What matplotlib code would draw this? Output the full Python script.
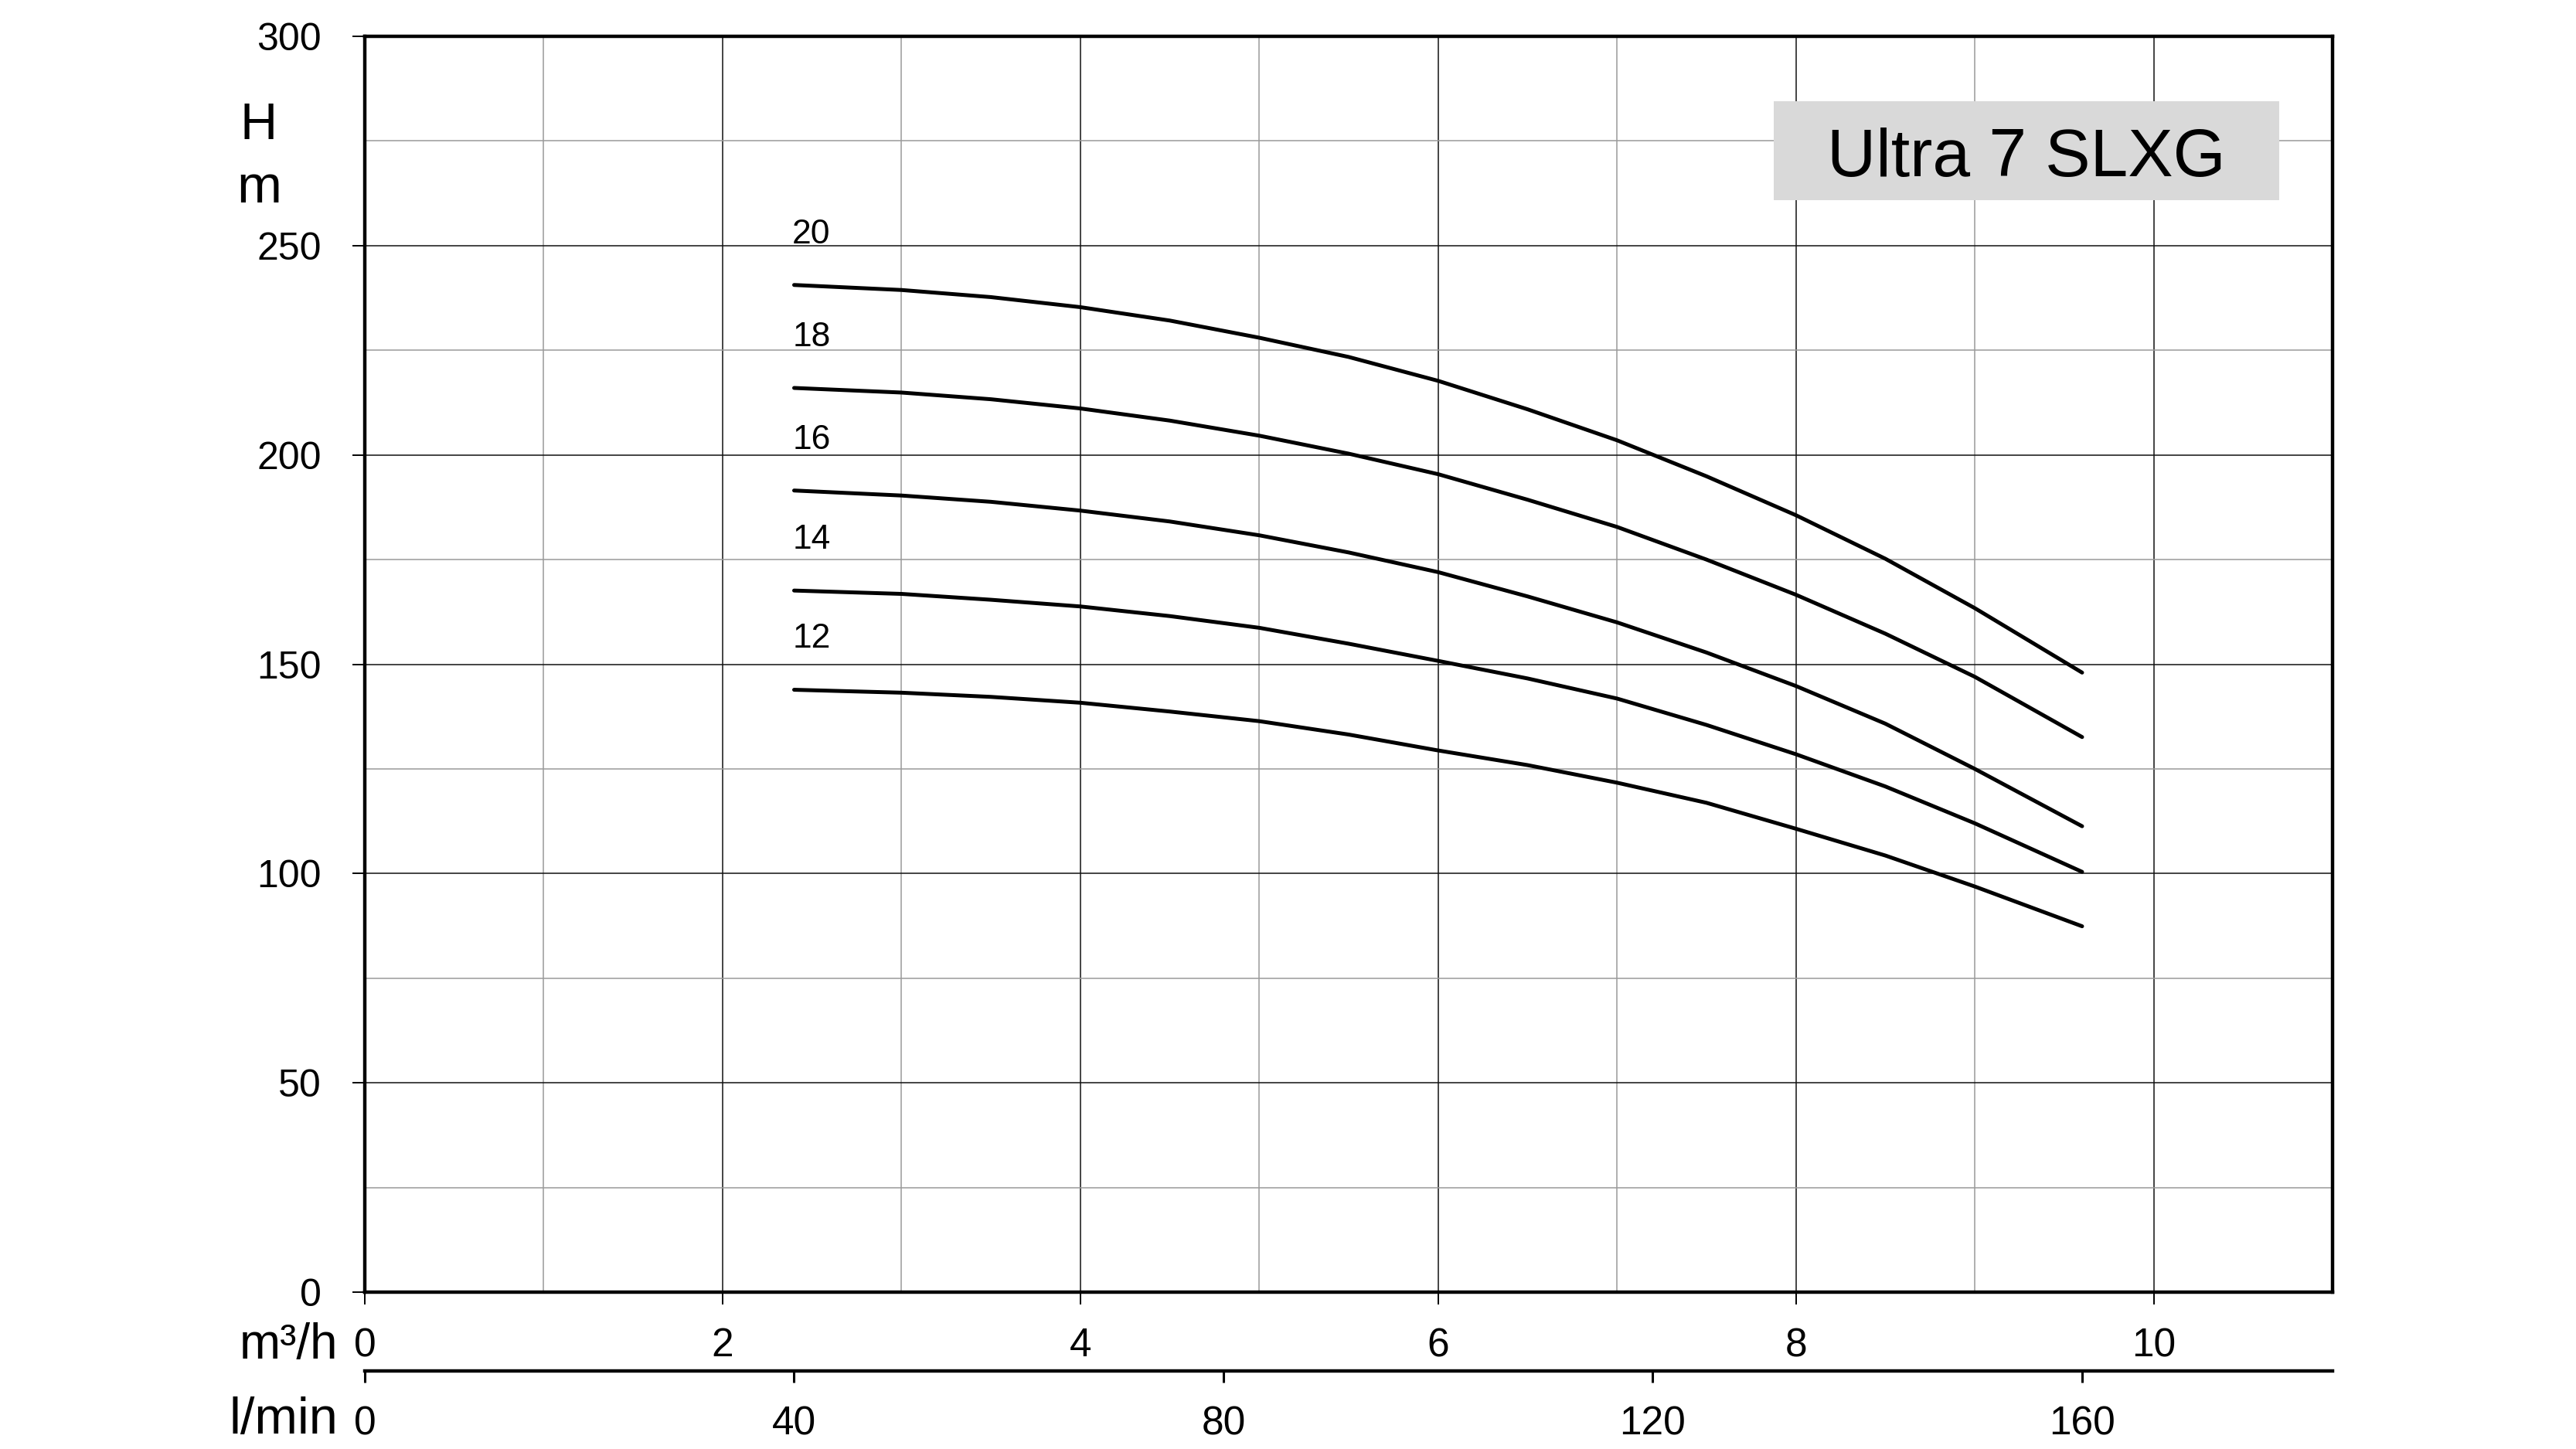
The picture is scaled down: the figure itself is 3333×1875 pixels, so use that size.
import numpy as np
import matplotlib
matplotlib.use("Agg")
import matplotlib.pyplot as plt
from matplotlib.patches import Rectangle

plt.rcParams['font.family'] = ['Liberation Sans', 'DejaVu Sans']

# flow in m3/h, head in m
q = [2.4, 3.0, 3.5, 4.0, 4.5, 5.0, 5.5, 6.0, 6.5, 7.0, 7.5, 8.0, 8.5, 9.0, 9.6]
h20 = [240.6, 239.4, 237.7, 235.3, 232.1, 228.0, 223.4, 217.7, 210.9, 203.5, 194.9, 185.6, 175.2, 163.4, 148.0]
h18 = [216.0, 214.9, 213.3, 211.1, 208.2, 204.6, 200.3, 195.4, 189.3, 182.8, 175.0, 166.6, 157.3, 147.0, 132.6]
h16 = [191.5, 190.3, 188.8, 186.7, 184.1, 180.8, 176.7, 172.0, 166.2, 160.0, 152.8, 144.8, 135.8, 125.0, 111.3]
h14 = [167.6, 166.8, 165.4, 163.8, 161.5, 158.7, 154.9, 150.8, 146.6, 141.8, 135.5, 128.5, 120.8, 112.0, 100.4]
h12 = [143.9, 143.2, 142.2, 140.8, 138.7, 136.4, 133.2, 129.4, 125.9, 121.7, 116.9, 110.7, 104.3, 96.9, 87.4]
stages = ['20', '18', '16', '14', '12']
curves = [h20, h18, h16, h14, h12]

title = 'Ultra 7 SLXG'
m3h_ticks = [0, 2, 4, 6, 8, 10]
lmin_ticks = [0, 40, 80, 120, 160]
h_ticks = [0, 50, 100, 150, 200, 250, 300]

W, H = 3333, 1875
fig = plt.figure(figsize=(W / 100, H / 100), dpi=100)
fig.patch.set_facecolor('white')

L, R, T, B = 472, 3018, 47, 1672
ax = fig.add_axes([L / W, 1 - B / H, (R - L) / W, (B - T) / H])
ax.set_xlim(0, 11)
ax.set_ylim(0, 300)

# grid
ax.set_xticks(m3h_ticks)
ax.set_xticks(np.arange(1, 11, 2), minor=True)
ax.set_yticks(h_ticks)
ax.set_yticks(np.arange(25, 300, 50), minor=True)
ax.grid(which='major', color='#111111', lw=1.1, zorder=0)
ax.grid(which='minor', color='#9a9a9a', lw=1.1, zorder=0)
ax.set_axisbelow(True)

for s in ax.spines.values():
    s.set_linewidth(3.2)
    s.set_color('black')

ax.tick_params(which='major', direction='out', length=11.5, width=1.4,
               labelsize=37, pad=21)
ax.tick_params(axis='y', which='major', pad=29, labelsize=36)
ax.tick_params(which='minor', length=0)

# curves
for lab, hh in zip(stages, curves):
    ax.plot(q, hh, color='black', lw=3.6, solid_capstyle='round',
            solid_joinstyle='round', zorder=3)
    ax.text(2.39, hh[0] + 10, lab, fontsize=32, ha='left', va='baseline', zorder=4)

# title box
ax.add_patch(Rectangle((7.875, 260.8), 2.825, 23.7, facecolor='#d9d9d9',
                       edgecolor='none', zorder=2))
ax.text(9.29, 266.6, title, fontsize=63, ha='center', va='baseline', zorder=4)

# second flow axis in l/min
sec = ax.secondary_xaxis((B - 1774) / (B - T),
                         functions=(lambda x: x * 1000 / 60, lambda x: x * 60 / 1000))
sec.set_xticks(lmin_ticks)
sec.spines['bottom'].set_linewidth(3.2)
sec.tick_params(direction='out', length=11, width=2.2, labelsize=37, pad=21)

# unit labels
fig.text(335 / W, 1 - 180 / H, 'H', fontsize=48, ha='center', va='baseline')
fig.text(335 / W, 1 - 262 / H, 'm', fontsize=50, ha='center', va='baseline')
fig.text(437 / W, 1 - 1758 / H, 'm³/h', fontsize=46, ha='right', va='baseline')
fig.text(437 / W, 1 - 1855 / H, 'l/min', fontsize=48, ha='right', va='baseline')

fig.savefig('out.png', dpi=100, facecolor='white')
